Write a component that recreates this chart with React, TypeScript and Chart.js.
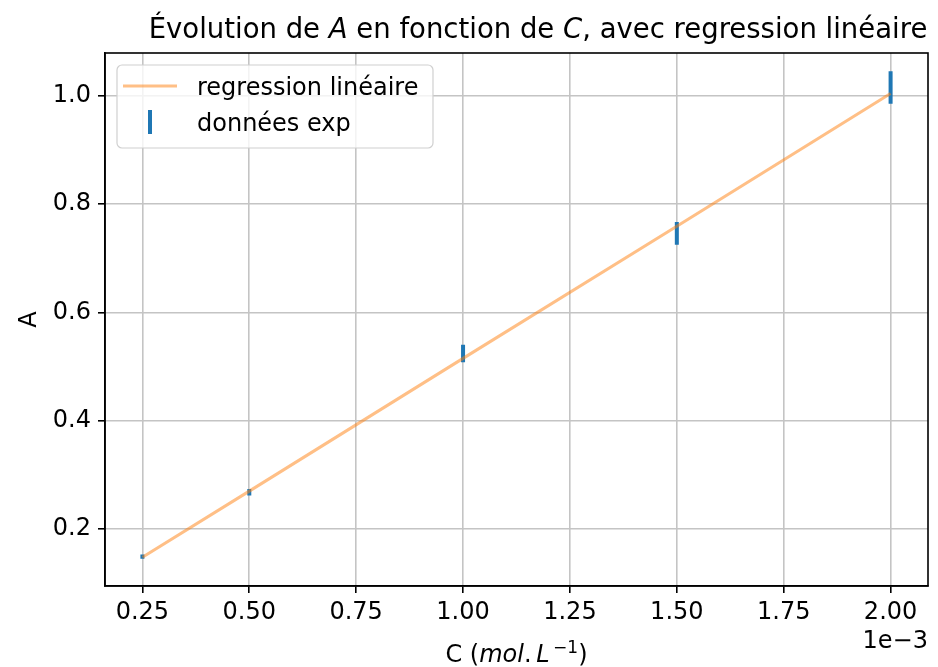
import React, { useEffect, useRef } from 'react';
import { Chart, registerables } from 'chart.js';

Chart.register(...registerables);

// concentrations in units of 1e-3 mol/L
const concentrations = [0.25, 0.5, 1.0, 1.5, 2.0];
const absorbances = [0.149, 0.268, 0.524, 0.746, 1.015];
const absErrors = [0.004, 0.006, 0.016, 0.021, 0.03];
const regressionA = [0.148, 0.27, 0.515, 0.759, 1.004];
const xTicks = [0.25, 0.5, 0.75, 1.0, 1.25, 1.5, 1.75, 2.0];
const yTicks = [0.2, 0.4, 0.6, 0.8, 1.0];

const FONT = '"DejaVu Sans"';
const FS = 24;
const BLUE = '#1f77b4';
const ORANGE_A = 'rgba(255,127,14,0.5)';

function drawSegments(ctx: CanvasRenderingContext2D, segs: { t: string; it?: boolean; size?: number; dy?: number }[], x: number, y: number, align: 'center' | 'left' | 'right', baseSize: number) {
  let total = 0;
  const widths: number[] = [];
  for (const s of segs) {
    ctx.font = `${s.it ? 'oblique ' : ''}${s.size ?? baseSize}px ${FONT}`;
    const w = ctx.measureText(s.t).width;
    widths.push(w);
    total += w;
  }
  let cx = align === 'center' ? x - total / 2 : align === 'right' ? x - total : x;
  ctx.textAlign = 'left';
  ctx.textBaseline = 'alphabetic';
  segs.forEach((s, i) => {
    ctx.font = `${s.it ? 'oblique ' : ''}${s.size ?? baseSize}px ${FONT}`;
    ctx.fillText(s.t, cx, y + (s.dy ?? 0));
    cx += widths[i];
  });
}

const decorPlugin = {
  id: 'decor',
  afterDraw(chart: any) {
    const { ctx, chartArea } = chart;
    const { left, right, top, bottom } = chartArea;
    ctx.save();
    // frame
    ctx.strokeStyle = '#000';
    ctx.lineWidth = 1.6;
    ctx.strokeRect(left, top, right - left, bottom - top);
    ctx.fillStyle = '#000';
    const cx = (left + right) / 2;
    // title
    drawSegments(ctx, [
      { t: 'Évolution de ' },
      { t: 'A', it: true },
      { t: ' en fonction de ' },
      { t: 'C', it: true },
      { t: ', avec regression linéaire' },
    ], 538, 38, 'center', 27.5);
    // x label
    drawSegments(ctx, [
      { t: 'C (' },
      { t: 'mol', it: true },
      { t: '.\u2009' },
      { t: 'L', it: true },
      { t: '\u2009−1', size: 17, dy: -9 },
      { t: ')' },
    ], cx, 662, 'center', FS);
    // offset text
    drawSegments(ctx, [{ t: '1e−3' }], right, 648, 'right', FS);
    // y label
    ctx.save();
    ctx.translate(36, (top + bottom) / 2);
    ctx.rotate(-Math.PI / 2);
    drawSegments(ctx, [{ t: 'A' }], 0, 0, 'center', FS);
    ctx.restore();
    // legend
    const lx = 117, ly = 65, lw = 316, lh = 83, r = 5;
    ctx.beginPath();
    ctx.moveTo(lx + r, ly);
    ctx.arcTo(lx + lw, ly, lx + lw, ly + lh, r);
    ctx.arcTo(lx + lw, ly + lh, lx, ly + lh, r);
    ctx.arcTo(lx, ly + lh, lx, ly, r);
    ctx.arcTo(lx, ly, lx + lw, ly, r);
    ctx.closePath();
    ctx.fillStyle = 'rgba(255,255,255,0.8)';
    ctx.fill();
    ctx.strokeStyle = '#d0d0d0';
    ctx.lineWidth = 1.2;
    ctx.stroke();
    ctx.strokeStyle = ORANGE_A;
    ctx.lineWidth = 3;
    ctx.beginPath();
    ctx.moveTo(123, 86);
    ctx.lineTo(177, 86);
    ctx.stroke();
    ctx.strokeStyle = BLUE;
    ctx.lineWidth = 4;
    ctx.beginPath();
    ctx.moveTo(150, 110);
    ctx.lineTo(150, 134);
    ctx.stroke();
    ctx.fillStyle = '#000';
    drawSegments(ctx, [{ t: 'regression linéaire' }], 197, 95, 'left', FS);
    drawSegments(ctx, [{ t: 'données exp' }], 197, 131, 'left', FS);
    ctx.restore();
  },
};

export default function App() {
  const ref = useRef<HTMLCanvasElement>(null);
  useEffect(() => {
    document.body.style.margin = '0';
    const errData: any[] = [];
    concentrations.forEach((x, i) => {
      errData.push({ x, y: absorbances[i] - absErrors[i] });
      errData.push({ x, y: absorbances[i] + absErrors[i] });
      errData.push({ x, y: null });
    });
    const chart = new Chart(ref.current!, {
      type: 'scatter',
      data: {
        datasets: [
          {
            label: 'regression linéaire',
            data: concentrations.map((x, i) => ({ x, y: regressionA[i] })),
            showLine: true,
            borderColor: ORANGE_A,
            borderWidth: 3,
            pointRadius: 0,
            pointHoverRadius: 0,
          },
          {
            label: 'données exp',
            data: errData,
            showLine: true,
            spanGaps: false,
            borderColor: BLUE,
            borderWidth: 4,
            borderCapStyle: 'butt',
            pointRadius: 0,
            pointHoverRadius: 0,
          },
        ],
      },
      options: {
        responsive: false,
        devicePixelRatio: 1,
        animation: false,
        layout: { padding: { left: 0, top: 53, right: 10, bottom: 0 } },
        plugins: { legend: { display: false }, tooltip: { enabled: false }, title: { display: false } },
        scales: {
          x: {
            type: 'linear',
            min: 0.1625,
            max: 2.0875,
            afterBuildTicks: (s: any) => { s.ticks = xTicks.map((v) => ({ value: v })); },
            afterFit: (s: any) => { s.height = 81; },
            ticks: {
              callback: (v: any) => Number(v).toFixed(2),
              color: '#000',
              font: { family: FONT, size: FS },
              padding: 5,
              autoSkip: false,
              maxRotation: 0,
            },
            grid: { color: '#c4c4c4', lineWidth: 1.6, tickLength: 7, tickColor: '#000', tickWidth: 1.6 },
            border: { display: true, color: '#000', width: 1.6 },
          },
          y: {
            type: 'linear',
            min: 0.0948,
            max: 1.0788,
            afterBuildTicks: (s: any) => { s.ticks = yTicks.map((v) => ({ value: v })); },
            afterFit: (s: any) => { s.width = 105; },
            ticks: {
              callback: (v: any) => Number(v).toFixed(1),
              color: '#000',
              font: { family: FONT, size: FS },
              padding: 7,
              autoSkip: false,
            },
            grid: { color: '#c4c4c4', lineWidth: 1.6, tickLength: 7, tickColor: '#000', tickWidth: 1.6 },
            border: { display: true, color: '#000', width: 1.6 },
          },
        },
      },
      plugins: [decorPlugin],
    } as any);
    return () => chart.destroy();
  }, []);
  return (
    <div style={{ position: 'absolute', left: 0, top: 0, width: 938, height: 667 }}>
      <canvas ref={ref} width={938} height={667} style={{ display: 'block' }} />
    </div>
  );
}
